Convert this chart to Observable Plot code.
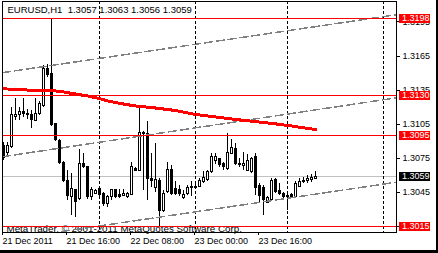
<!DOCTYPE html>
<html><head><meta charset="utf-8">
<script src="https://cdn.jsdelivr.net/npm/d3@7"></script>
<script src="https://cdn.jsdelivr.net/npm/@observablehq/plot@0.6"></script>
<style>
html,body{margin:0;padding:0;background:#fff;}
#wrap{width:438px;height:253px;background:#000;overflow:hidden;}
#wrap svg{display:block;background:#fff;}
svg text{white-space:pre;}
</style></head><body><div id="wrap"></div>
<script>
const symbol = "EURUSD";
const timeframe = "H1";
const open  = [1.3086,1.3080,1.3085,1.3111,1.3113,1.3116,1.3114,1.3113,1.3108,1.3114,1.3121,1.3154,1.3149,1.3105,1.3090,1.3071,1.3055,1.3041,1.3047,1.3039,1.3070,1.3067,1.3041,1.3044,1.3048,1.3044,1.3035,1.3041,1.3047,1.3043,1.3042,1.3041,1.3043,1.3066,1.3064,1.3097,1.3096,1.3057,1.3049,1.3055,1.3029,1.3045,1.3065,1.3048,1.3047,1.3040,1.3044,1.3049,1.3050,1.3050,1.3054,1.3056,1.3063,1.3073,1.3074,1.3070,1.3066,1.3079,1.3083,1.3070,1.3068,1.3064,1.3063,1.3076,1.3051,1.3049,1.3036,1.3038,1.3056,1.3046,1.3044,1.3041,1.3043,1.3041,1.3050,1.3054,1.3055,1.3056,1.3057];
const high  = [1.3089,1.3089,1.3120,1.3128,1.3120,1.3128,1.3118,1.3117,1.3128,1.3125,1.3157,1.3158,1.3198,1.3106,1.3092,1.3072,1.3064,1.3062,1.3048,1.3083,1.3079,1.3068,1.3049,1.3048,1.3050,1.3045,1.3042,1.3048,1.3048,1.3048,1.3048,1.3045,1.3071,1.3067,1.3120,1.3099,1.3107,1.3079,1.3088,1.3057,1.3047,1.3071,1.3069,1.3055,1.3051,1.3047,1.3051,1.3055,1.3054,1.3057,1.3063,1.3064,1.3079,1.3079,1.3075,1.3071,1.3097,1.3092,1.3088,1.3075,1.3080,1.3078,1.3076,1.3079,1.3053,1.3051,1.3041,1.3057,1.3057,1.3053,1.3045,1.3045,1.3044,1.3055,1.3057,1.3058,1.3060,1.3061,1.3063];
const low   = [1.3073,1.3076,1.3084,1.3108,1.3108,1.3111,1.3109,1.3101,1.3107,1.3113,1.3120,1.3146,1.3103,1.3090,1.3070,1.3054,1.3038,1.3025,1.3023,1.3038,1.3066,1.3039,1.3038,1.3043,1.3040,1.3033,1.3032,1.3038,1.3040,1.3040,1.3041,1.3040,1.3042,1.3063,1.3063,1.3047,1.3038,1.3049,1.3045,1.3015,1.3027,1.3044,1.3042,1.3042,1.3041,1.3039,1.3042,1.3041,1.3048,1.3049,1.3053,1.3055,1.3062,1.3070,1.3067,1.3064,1.3064,1.3078,1.3069,1.3067,1.3064,1.3063,1.3062,1.3042,1.3036,1.3025,1.3035,1.3037,1.3044,1.3042,1.3040,1.3029,1.3040,1.3040,1.3049,1.3053,1.3053,1.3054,1.3056];
const close = [1.3075,1.3086,1.3113,1.3113,1.3116,1.3114,1.3113,1.3109,1.3114,1.3123,1.3154,1.3148,1.3104,1.3091,1.3071,1.3055,1.3042,1.3048,1.3037,1.3070,1.3067,1.3041,1.3047,1.3046,1.3043,1.3035,1.3041,1.3047,1.3041,1.3041,1.3044,1.3044,1.3067,1.3064,1.3097,1.3096,1.3057,1.3055,1.3056,1.3029,1.3044,1.3065,1.3044,1.3044,1.3044,1.3043,1.3049,1.3050,1.3049,1.3055,1.3058,1.3063,1.3076,1.3076,1.3069,1.3067,1.3080,1.3084,1.3070,1.3069,1.3070,1.3073,1.3074,1.3049,1.3042,1.3038,1.3040,1.3055,1.3045,1.3044,1.3041,1.3042,1.3041,1.3052,1.3054,1.3055,1.3057,1.3058,1.3059];

const maBars   = [0,6,12,15,18,21,24,26,30,33,38,43,48,53,58,62,67,72,76,78];
const maValues = [1.31362,1.31351,1.31347,1.31334,1.31316,1.31299,1.31277,1.31255,1.31228,1.31211,1.31193,1.31171,1.31136,1.31114,1.31092,1.31077,1.31058,1.31035,1.31013,1.31004];

const xTickBars   = [0,16,32,48,64];
const xTickLabels = ["21 Dec 2011","21 Dec 16:00","22 Dec 08:00","23 Dec 00:00","23 Dec 16:00"];
const separatorBars = [24,48,71,95];
const levelPrices = [1.3198,1.3130,1.3095,1.3015];
const yTickValues = [1.3195,1.3165,1.3135,1.3105,1.3075,1.3045,1.3015];
const yTickLabelled = [1.3195,1.3165,1.3135,1.3105,1.3075,1.3045];
const channelBars   = [-0.25, 98.25];
const channelUpper  = [1.31504, 1.32014];
const channelMiddle = [1.30764, 1.31283];
const channelLower  = [1.30029, 1.30540];
const copyright = "MetaTrader, \u00A9 2001-2011 MetaQuotes Software Corp.";

const f4 = v => v.toFixed(4);
const bars = open.map((o, i) => ({i, o, h: high[i], l: low[i], c: close[i]}));
const last = bars[bars.length - 1];
const title = `${symbol},${timeframe}  ${f4(last.o)} ${f4(last.h)} ${f4(last.l)} ${f4(last.c)}`;
const ma = maBars.map((b, k) => ({b, v: maValues[k]}));
const channel = (vals, name) => channelBars.map((b, k) => ({b, v: vals[k], name}));
const channels = [...channel(channelUpper, "u"), ...channel(channelMiddle, "m"), ...channel(channelLower, "l")];
const boxes = [...levelPrices.map(p => ({price: p, color: "#ff0000"})), {price: last.c, color: "#000000"}];

function priceBoxes(items) {
  return (index, scales, values, dims) => {
    const g = d3.create("svg:g").attr("text-anchor", "start");
    const x0 = dims.width - dims.marginRight + 3;
    for (const d of items) {
      const y = Math.round(scales.y(d.price));
      g.append("rect").attr("x", x0).attr("y", y - 4.5).attr("width", 31).attr("height", 9.5).attr("fill", d.color);
      g.append("text").attr("x", x0 + 3).attr("y", y).attr("dy", "0.36em").attr("text-anchor", "start")
        .attr("fill", "#fff").attr("font-size", 9).text(f4(d.price));
    }
    return g.node();
  };
}

const chart = Plot.plot({
  width: 436, height: 250,
  marginLeft: 2, marginRight: 40, marginTop: 1, marginBottom: 18,
  style: {fontFamily: "'Liberation Sans', Arial, sans-serif", fontSize: "9px", background: "#fff", color: "#000", shapeRendering: "crispEdges"},
  x: {domain: [-0.25, 98.25], label: null},
  y: {domain: [1.300974, 1.321302], label: null},
  marks: [
    Plot.text([copyright], {frameAnchor: "bottom-left", dx: 4, dy: -1, textAnchor: "start", lineAnchor: "bottom", fontSize: 9.8, fill: "#000"}),
    Plot.text([title], {frameAnchor: "top-left", dx: 5, dy: 5, textAnchor: "start", lineAnchor: "top", fontSize: 9.5, fill: "#000"}),
    Plot.ruleY([last.c], {stroke: "#c0c0c0"}),
    Plot.ruleX(separatorBars, {stroke: "#000", strokeDasharray: "3,2"}),
    Plot.ruleX(bars, {x: "i", y1: "l", y2: "h", stroke: "#000"}),
    Plot.rect(bars, {x1: d => d.i - 0.25, x2: d => d.i + 0.25, y1: "o", y2: "c", fill: d => d.c >= d.o ? "#fff" : "#000", stroke: "#000"}),
    Plot.line(channels, {x: "b", y: "v", z: "name", stroke: "#808080", strokeDasharray: "8,4", clip: true}),
    Plot.ruleY(levelPrices, {stroke: "#ff0000"}),
    Plot.line(ma, {x: "b", y: "v", stroke: "#ff0000", strokeWidth: 3}),
    Plot.frame({stroke: "#000"}),
    Plot.axisY(yTickValues, {anchor: "right", tickSize: 3, text: null, label: null}),
    Plot.axisY(yTickLabelled, {anchor: "right", tickSize: 0, tickPadding: 6, tickFormat: f4, label: null}),
    Plot.axisX(xTickBars, {anchor: "bottom", tickSize: 3, tickPadding: 2, textAnchor: "start", dx: -1, label: null,
      tickFormat: d => xTickLabels[xTickBars.indexOf(d)]}),
    priceBoxes(boxes)
  ]
});
document.getElementById("wrap").appendChild(chart);
</script></body></html>
